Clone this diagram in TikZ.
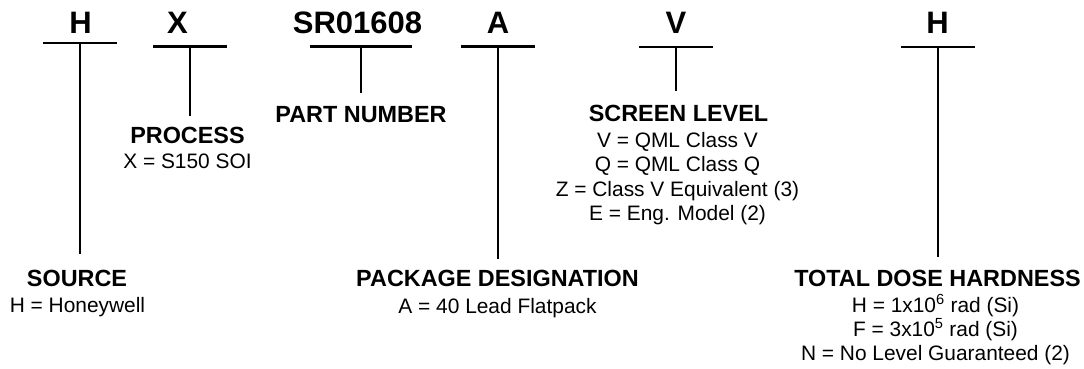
\documentclass[tikz,border=0pt]{standalone}
\usepackage{fontspec}
\setmainfont{Liberation Sans}
\usetikzlibrary{positioning}

\begin{document}
\begin{tikzpicture}[
        x=1pt, y=-1pt,
        letter/.style={font=\bfseries\fontsize{31}{37}\selectfont, inner sep=0pt, anchor=base},
        heading/.style={font=\bfseries\fontsize{23.4}{28}\selectfont, inner sep=0pt, anchor=base},
        values/.style={font=\fontsize{20.9}{24.3}\selectfont, inner sep=0pt, align=center, anchor=north},
        bar/.style={line width=2.2pt},
        stem/.style={line width=2.2pt, shorten >=13pt}
    ]
        \useasboundingbox (0,0) rectangle (1084,368);

        % part number fields
        \node[letter] (src) at (80.5,33) {H};
        \node[letter] (proc) at (177.5,33) {X};
        \node[letter] (pnum) at (357.5,33) {SR01608};
        \node[letter] (pkg) at (498,33) {A};
        \node[letter] (scr) at (676,33) {V};
        \node[letter] (tdh) at (937.5,33) {H};

        \coordinate (srcbar) at (80,43);
        \coordinate (procbar) at (190,46.5);
        \coordinate (pnumbar) at (361,46.5);
        \coordinate (pkgbar) at (498,46.5);
        \coordinate (scrbar) at (676,47);
        \coordinate (tdhbar) at (938,47);

        % labels
        \node[heading] (source) at (77,286.7) {SOURCE};
        \node[values] (sourceval) at (77.5,296.7) {H = Honeywell};
        \node[heading] (process) at (187.5,143.5) {PROCESS};
        \node[values] (processval) at (187.5,154) {X = S150 SOI};
        \node[heading] (partno) at (361,122.7) {PART NUMBER};
        \node[heading] (package) at (497.5,286.5) {PACKAGE DESIGNATION};
        \node[values] (packageval) at (497.5,297.8) {A = 40 Lead Flatpack};
        \node[heading] (screen) at (678.5,121) {SCREEN LEVEL};
        \node[values] (screenval) at (677.5,132.3) {V = QML Class V\\Q = QML Class Q\\Z = Class V Equivalent (3)\\E = Eng. Model (2)};
        \node[heading] (dose) at (937.5,286.7) {TOTAL DOSE HARDNESS};
        \node[values] (doseval) at (935.5,294.2) {H = 1x10\textsuperscript{6} rad (Si)\\F = 3x10\textsuperscript{5} rad (Si)\\N = No Level Guaranteed (2)};

        \draw[bar] ([xshift=-37pt]srcbar) -- ([xshift=37pt]srcbar);
        \draw[bar] ([xshift=-37pt]procbar) -- ([xshift=37pt]procbar);
        \draw[bar] ([xshift=-51pt]pnumbar) -- ([xshift=51pt]pnumbar);
        \draw[bar] ([xshift=-37pt]pkgbar) -- ([xshift=37pt]pkgbar);
        \draw[bar] ([xshift=-37pt]scrbar) -- ([xshift=37pt]scrbar);
        \draw[bar] ([xshift=-37pt]tdhbar) -- ([xshift=37pt]tdhbar);

        \draw[stem, shorten >=16pt] (srcbar) -- (srcbar |- source.north);
        \draw[stem, shorten >=11pt] (procbar) -- (procbar |- process.north);
        \draw[stem] (pnumbar) -- (pnumbar |- partno.north);
        \draw[stem, shorten >=11pt] (pkgbar) -- (pkgbar |- package.north);
        \draw[stem] (scrbar) -- (scrbar |- screen.north);
        \draw[stem] (tdhbar) -- (tdhbar |- dose.north);
    \end{tikzpicture}
\end{document}
